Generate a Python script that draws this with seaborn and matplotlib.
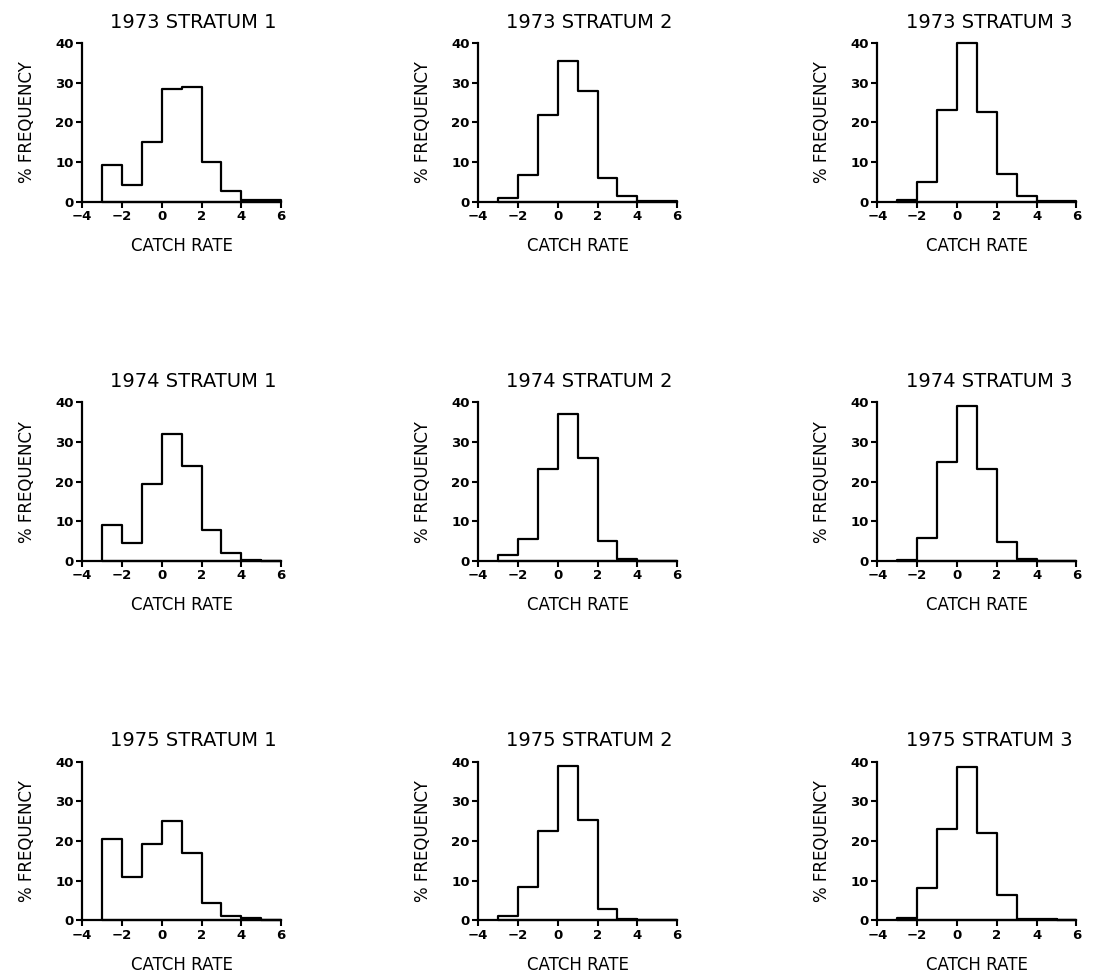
"""
Catch rate histograms, 1973-1975, strata 1-3
- percent frequency per unit catch-rate bin
- one step histogram per year/stratum panel
"""

import numpy as np
import seaborn as sns
from matplotlib import pyplot as plt

# Bins of width 1 from -3 to 6
bin_edges = [-3, -2, -1, 0, 1, 2, 3, 4, 5, 6]
bin_centers = [-2.5, -1.5, -0.5, 0.5, 1.5, 2.5, 3.5, 4.5, 5.5]

years = [1973, 1974, 1975]
strata = [1, 2, 3]

# % frequency per bin
freq_1973_s1 = [9.3, 4.3, 15.0, 28.3, 29.0, 10.0, 2.8, 0.5, 0.3]
freq_1973_s2 = [0.8, 6.6, 21.8, 35.5, 27.8, 5.9, 1.5, 0.2, 0.1]
freq_1973_s3 = [0.5, 5.0, 23.0, 40.0, 22.5, 7.0, 1.3, 0.2, 0.1]
freq_1974_s1 = [9.2, 4.6, 19.3, 32.0, 24.0, 7.8, 2.1, 0.2, 0.1]
freq_1974_s2 = [1.5, 5.5, 23.3, 37.0, 26.0, 5.0, 0.6, 0.1, 0.05]
freq_1974_s3 = [0.3, 5.9, 25.0, 39.0, 23.2, 4.9, 0.5, 0.1, 0.1]
freq_1975_s1 = [20.6, 11.0, 19.3, 25.1, 17.0, 4.3, 1.2, 0.5, 0.2]
freq_1975_s2 = [1.2, 8.3, 22.5, 39.0, 25.2, 2.8, 0.3, 0.1, 0.05]
freq_1975_s3 = [0.7, 8.1, 23.0, 38.7, 22.0, 6.4, 0.3, 0.4, 0.1]

freqs = [
    [freq_1973_s1, freq_1973_s2, freq_1973_s3],
    [freq_1974_s1, freq_1974_s2, freq_1974_s3],
    [freq_1975_s1, freq_1975_s2, freq_1975_s3],
]

sns.set_style('ticks')
plt.rcParams['font.family'] = ['DejaVu Sans']
plt.rcParams['text.color'] = 'black'
plt.rcParams['axes.labelcolor'] = 'black'
plt.rcParams['xtick.color'] = 'black'
plt.rcParams['ytick.color'] = 'black'

fig = plt.figure(figsize=(10.94, 9.74), dpi=100)

lefts = [0.075, 0.437, 0.802]
bottoms = [0.793, 0.424, 0.055]
w, h = 0.182, 0.163

for i, year in enumerate(years):
    for j, stratum in enumerate(strata):
        ax = fig.add_axes([lefts[j], bottoms[i], w, h])
        sns.histplot(x=bin_centers,
                     weights=freqs[i][j],
                     bins=bin_edges,
                     element='step',
                     fill=True,
                     color='white',
                     alpha=1,
                     edgecolor='black',
                     linewidth=1.6,
                     clip_on=False,
                     ax=ax)
        ax.set_xlim(-4, 6)
        ax.set_ylim(0, 40)
        ax.set_xticks([-4, -2, 0, 2, 4, 6])
        ax.set_xticklabels(['\u22124', '\u22122', '0', '2', '4', '6'])
        ax.set_yticks([0, 10, 20, 30, 40])
        ax.tick_params(axis='both', labelsize=9.5, width=1.5, length=4,
                       pad=2)
        for lab in ax.get_xticklabels() + ax.get_yticklabels():
            lab.set_fontweight('bold')
        ax.set_title(f'{year} STRATUM {stratum}', fontsize=14, x=0.56,
                     pad=11)
        ax.set_xlabel('CATCH RATE', fontsize=12, labelpad=10)
        ax.set_ylabel('% FREQUENCY', fontsize=12, labelpad=14)
        sns.despine(ax=ax)
        for s in ['left', 'bottom']:
            ax.spines[s].set_linewidth(1.6)
            ax.spines[s].set_color('black')

plt.savefig('out.png', dpi=100)
